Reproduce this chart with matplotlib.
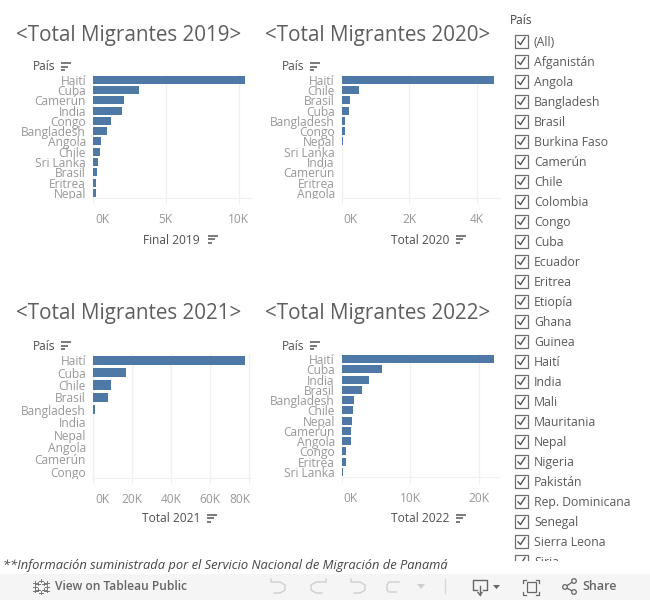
import matplotlib
matplotlib.use("Agg")
import matplotlib.pyplot as plt
from matplotlib.patches import Rectangle, Circle, Polygon
from matplotlib.transforms import ScaledTranslation

plt.rcParams['font.family'] = ['Open Sans', 'DejaVu Sans']

paises_2019 = ['Haití','Cuba','Camerún','India','Congo','Bangladesh','Angola','Chile','Sri Lanka','Brasil','Eritrea','Nepal']
valores_2019 = [10450,3180,2150,2020,1260,980,570,500,370,300,230,230]
ticks_2019 = [0,5000,10000]
labels_2019 = ['0K','5K','10K']

paises_2020 = ['Haití','Chile','Brasil','Cuba','Bangladesh','Congo','Nepal','Sri Lanka','India','Camerún','Eritrea','Angola']
valores_2020 = [4520,510,250,220,100,100,30,0,0,0,0,0]
ticks_2020 = [0,2000,4000]
labels_2020 = ['0K','2K','4K']

paises_2021 = ['Haití','Cuba','Chile','Brasil','Bangladesh','India','Nepal','Angola','Camerún','Congo']
valores_2021 = [78300,17100,9400,7900,1200,0,0,0,0,0]
ticks_2021 = [0,20000,40000,60000,80000]
labels_2021 = ['0K','20K','40K','60K','80K']

paises_2022 = ['Haití','Cuba','India','Brasil','Bangladesh','Chile','Nepal','Camerún','Angola','Congo','Eritrea','Sri Lanka']
valores_2022 = [22300,5900,4000,2970,1800,1650,1500,1360,1360,630,630,200]
ticks_2022 = [0,10000,20000]
labels_2022 = ['0K','10K','20K']

filtro = ['(All)','Afganistán','Angola','Bangladesh','Brasil','Burkina Faso','Camerún','Chile','Colombia','Congo','Cuba','Ecuador','Eritrea','Etiopía','Ghana','Guinea','Haití','India','Mali','Mauritania','Nepal','Nigeria','Pakistán','Rep. Dominicana','Senegal','Sierra Leona','Siria']

W, H = 650, 600
BLUE = '#4e79a7'
GRID = '#f0f0f0'
TXT = '#989898'
DARK = '#505050'

fig = plt.figure(figsize=(6.5, 6), dpi=100, facecolor='white')
ov = fig.add_axes([0, 0, 1, 1], zorder=5)
ov.set_xlim(0, W); ov.set_ylim(H, 0); ov.axis('off')
ov.patch.set_alpha(0)

def px(n):
    return n * 0.72

def sort_icon(x, y):
    for i, w in enumerate([10, 7, 4]):
        ov.plot([x, x + w], [y - 3.5 + i * 3.5] * 2, color='#555555', lw=1.1, solid_capstyle='butt')

def panel(paises, valores, ticks, labels, left, right, top, bottom, per_k, title, tx, ty, xlab, xlab_x, pais_x, pais_y, bar_h):
    ax = fig.add_axes([left / W, 1 - bottom / H, (right - left) / W, (bottom - top) / H], zorder=2)
    ax.barh(range(len(paises)), valores, height=bar_h, color=BLUE, zorder=3)
    ax.set_xlim(0, (right - left) / per_k * 1000)
    ax.set_ylim(len(paises) - 0.5, -0.5)
    for s in ['top', 'right']:
        ax.spines[s].set_visible(False)
    ax.spines['left'].set_color(GRID); ax.spines['bottom'].set_color(GRID)
    ax.grid(axis='x', color=GRID, lw=1, zorder=0)
    ax.set_axisbelow(True)
    ax.set_yticks(range(len(paises)))
    ax.set_yticklabels(paises, fontsize=px(12), color=TXT)
    ax.tick_params(axis='y', length=0, pad=5)
    ax.set_xticks(ticks)
    ax.set_xticklabels(labels, fontsize=px(12), color=TXT)
    ax.tick_params(axis='x', length=4, color=GRID, pad=7)
    tl = ax.get_xticklabels()
    shift = ScaledTranslation(2 / 100, 0, fig.dpi_scale_trans)
    tl[0].set_ha('left')
    tl[0].set_transform(tl[0].get_transform() + shift)
    if ticks[-1] == 80000:
        tl[-1].set_ha('right')
        tl[-1].set_transform(tl[-1].get_transform() + shift)
    for lab in ax.get_yticklabels():
        lab.set_clip_path(Rectangle((0, top - 8), W, bottom - top + 9, transform=ov.transData))
    ov.text(tx, ty + 2, title, fontsize=px(20.7), color='#5e5e5e', ha='left', va='center')
    ov.text(xlab_x, ty + 207, xlab, fontsize=px(12), color=DARK, ha='left', va='center', fontweight='medium')
    ov.text(pais_x, pais_y + 0.5, 'País', fontsize=px(12), color=DARK, ha='left', va='center', fontweight='medium')
    sort_icon(pais_x + 28, pais_y)
    sort_icon(xlab_x + 65, ty + 206)

panel(paises_2019, valores_2019, ticks_2019, labels_2019, 93, 251, 74.7, 198, 14.55, '<Total Migrantes 2019>', 16, 33, 'Final 2019', 143, 33, 66.5, 0.78)
panel(paises_2020, valores_2020, ticks_2020, labels_2020, 341.7, 500, 74.7, 198, 33.7, '<Total Migrantes 2020>', 265, 33, 'Total 2020', 391, 282, 66.5, 0.78)
panel(paises_2021, valores_2021, ticks_2021, labels_2021, 93, 251, 354, 478, 1.945, '<Total Migrantes 2021>', 16, 312, 'Total 2021', 142, 33, 345.5, 0.75)
panel(paises_2022, valores_2022, ticks_2022, labels_2022, 341.7, 500, 354, 477, 6.85, '<Total Migrantes 2022>', 265, 312, 'Total 2022', 391, 282, 345.5, 0.78)

# Filter list
ov.text(510, 21, 'País', fontsize=px(12), color='#444444', va='center')
for i, name in enumerate(filtro):
    y = 41.5 + i * 20
    ov.add_patch(Rectangle((515, y - 6.5), 13, 13, fc='white', ec='#6e6e6e', lw=0.9))
    ov.plot([518, 520.5, 525], [y + 0.3, y + 3, y - 4], color='#555555', lw=1)
    ov.text(534, y + 0.8, name, fontsize=px(12.2), color='#5a5a5a', va='center', ha='left')
ov.add_patch(Rectangle((505, 560.5), 145, 14, fc='white', ec='none', zorder=4))

# Footer note
ov.text(3, 565, '**Información suministrada por el Servicio Nacional de Migración de Panamá', fontsize=px(12.85), style='italic', color='#444444', va='center', zorder=5)

# Toolbar
ov.add_patch(Rectangle((0, 574), W, 26, fc='#f5f5f5', ec='none', zorder=6))
ov.text(55, 586.5, 'View on Tableau Public', fontsize=px(12), color='#666666', va='center', zorder=7, fontweight='semibold')
ov.text(582, 586.5, 'Share', fontsize=px(12.5), color='#666666', va='center', zorder=7, fontweight='semibold')
# Tableau logo
for dx, dy in [(-6, 0), (6, 0), (0, -6), (0, 6), (-3, -3), (3, -3), (-3, 3), (3, 3), (-6, -4), (6, 4), (-6, 4), (6, -4)]:
    s = 1.6
    ov.plot([41 + dx - s, 41 + dx + s], [586.5 + dy, 586.5 + dy], color='#777777', lw=0.7, zorder=7)
    ov.plot([41 + dx, 41 + dx], [586.5 + dy - s, 586.5 + dy + s], color='#777777', lw=0.7, zorder=7)
# Undo / redo / arrows
lg = '#cfcfcf'
ov.plot([271, 271, 280, 285, 285, 280, 274], [579, 582, 582, 585, 590, 593, 593], color=lg, lw=1, zorder=7)
ov.plot([326, 326, 316, 311, 311, 316, 322], [579, 582, 582, 585, 590, 593, 593], color=lg, lw=1, zorder=7)
ov.plot([351, 351, 360, 365, 365, 360, 354], [579, 582, 582, 585, 590, 593, 593], color=lg, lw=1, zorder=7)
ov.plot([399, 399, 389, 387, 387, 389, 396], [582, 582, 582, 585, 590, 592, 592], color=lg, lw=1, zorder=7)
ov.add_patch(Polygon([[417, 584], [425, 584], [421, 589]], fc=lg, ec='none', zorder=7))
ov.plot([445, 445], [579, 593], color='#d8d8d8', lw=1, zorder=7)
# Download
ov.plot([477, 473, 473, 487, 487, 483], [590, 590, 579.5, 579.5, 590, 590], color='#666666', lw=1, zorder=7)
ov.plot([480, 480], [586, 595], color='#666666', lw=1, zorder=7)
ov.plot([478, 480, 482], [592.5, 595, 592.5], color='#666666', lw=1, zorder=7)
ov.add_patch(Polygon([[493, 585], [500, 585], [496.5, 589]], fc='#666666', ec='none', zorder=7))
# Fullscreen
ov.add_patch(Rectangle((526.5, 582), 9, 10, fc='none', ec='#666666', lw=0.9, zorder=7))
for cx, cy, sx, sy in [(523, 579.5, 1, 1), (538.5, 579.5, -1, 1), (523, 594.5, 1, -1), (538.5, 594.5, -1, -1)]:
    ov.plot([cx + sx * 3, cx, cx], [cy, cy, cy + sy * 3], color='#666666', lw=0.9, zorder=7)
# Share icon
ov.plot([574, 565, 574], [581, 587, 592], color='#666666', lw=0.9, zorder=7)
for cx, cy in [(574, 581), (565, 587), (574, 592)]:
    ov.add_patch(Circle((cx, cy), 2.3, fc='#f5f5f5', ec='#666666', lw=0.9, zorder=8))

fig.savefig('out.png', dpi=100, facecolor='white')
